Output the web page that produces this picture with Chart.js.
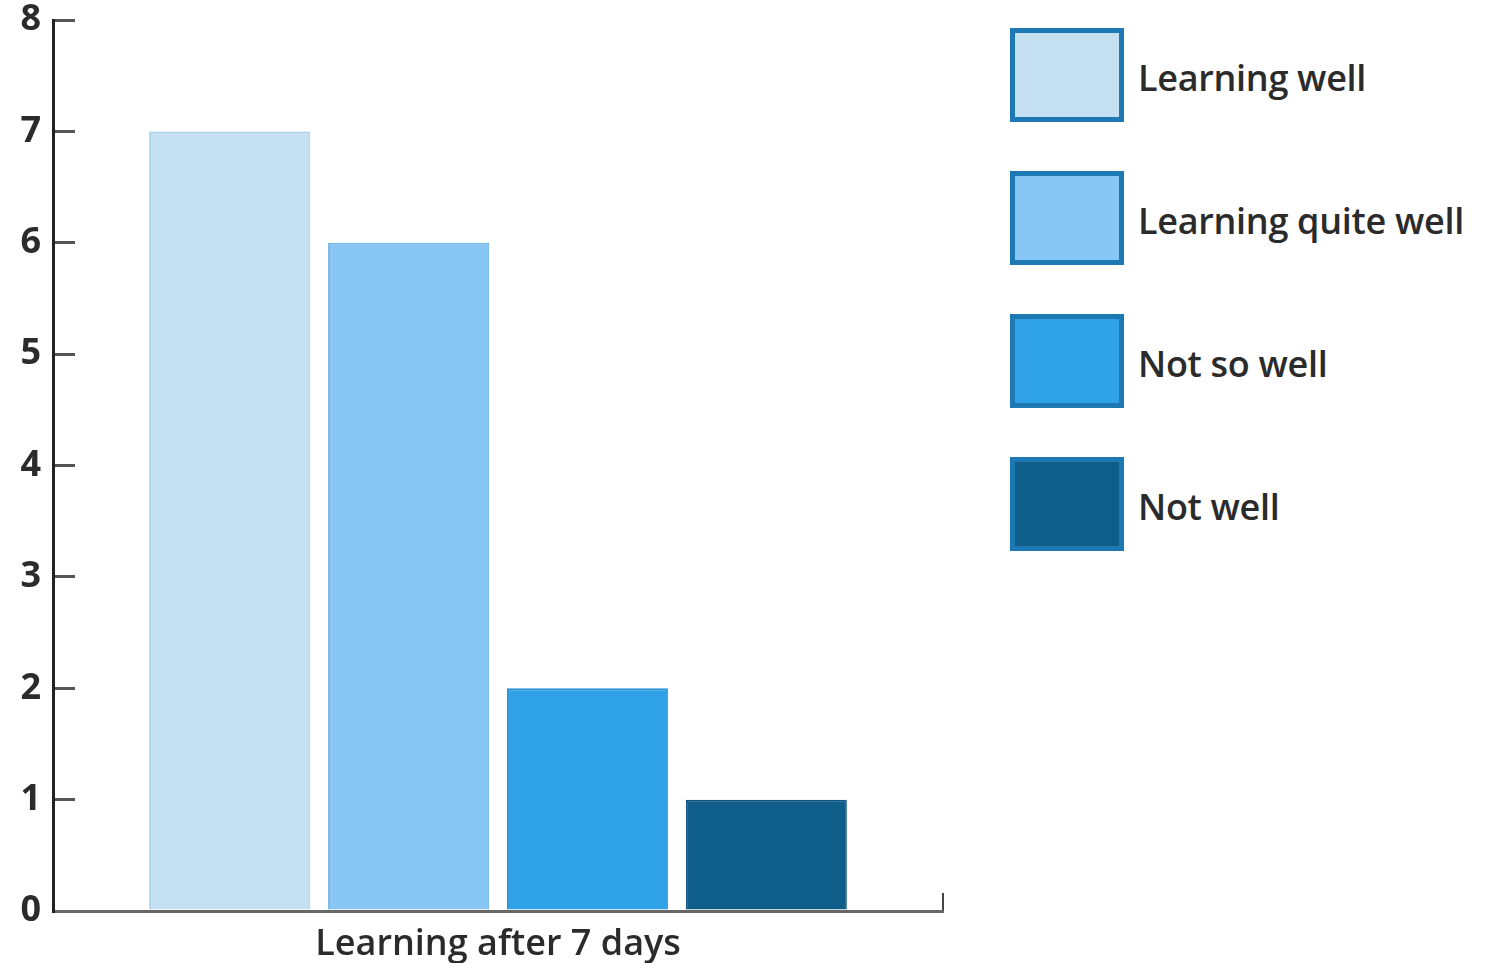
<!DOCTYPE html>
<html>
<head>
<meta charset="utf-8">
<title>Learning after 7 days</title>
<script src="https://cdn.jsdelivr.net/npm/chart.js@4/dist/chart.umd.min.js"></script>
<style>
    body { margin: 0; background: #fff; font-family: 'Open Sans', sans-serif; }
    #chartWrap { position: absolute; left: 0; top: 0; width: 960px; height: 963px; }
    #legend { position: absolute; left: 1010px; top: 28px; margin: 0; padding: 0; list-style: none; }
    #legend li { display: flex; align-items: center; height: 94px; margin-bottom: 49px; }
    #legend .box { width: 114px; height: 94px; box-sizing: border-box; border: 5px solid #1d78b4; }
    #legend .text { margin-left: 14px; margin-top: 4px; font-size: 36px; font-weight: 600; color: #2b2b2b; letter-spacing: -0.3px; }
</style>
</head>
<body>
<div id="chartWrap"><canvas id="learningChart"></canvas></div>
<ul id="legend"></ul>
<script>
const categories = ['Learning after 7 days'];
const seriesNames = ['Learning well', 'Learning quite well', 'Not so well', 'Not well'];
const seriesValues = [7, 6, 2, 1];
const yMin = 0;
const yMax = 8;

const fillColors = ['#c4e0f1', '#88c6f5', '#2fa1e7', '#0e5e89'];
const edgeColors = ['#a6cfe8', '#74b6e6', '#2a93d6', '#0d5780'];

document.addEventListener('DOMContentLoaded', () => {
    const ctx = document.getElementById('learningChart').getContext('2d');
    const labelFont = { family: "'Open Sans', sans-serif", size: 36, weight: '600' };

    const datasets = seriesNames.map((name, i) => ({
        label: name,
        data: [seriesValues[i]],
        backgroundColor: fillColors[i],
        borderColor: edgeColors[i],
        borderWidth: { left: 2, top: 2, right: 1, bottom: 0 },
        barPercentage: 0.9,
        categoryPercentage: 0.804
    }));

    new Chart(ctx, {
        type: 'bar',
        data: { labels: categories, datasets: datasets },
        options: {
            responsive: true,
            maintainAspectRatio: false,
            animation: false,
            layout: { padding: { top: 0, right: 17, bottom: 0, left: 0 } },
            plugins: {
                legend: { display: false },
                tooltip: { enabled: false }
            },
            scales: {
                x: {
                    border: { color: '#676767', width: 3 },
                    grid: { drawOnChartArea: false, tickLength: -18, color: '#444', lineWidth: 2 },
                    ticks: { color: '#2b2b2b', font: labelFont, padding: 30 },
                    afterFit: scale => { scale.height = 52; }
                },
                y: {
                    min: yMin,
                    max: yMax,
                    border: { color: '#222', width: 3 },
                    grid: { drawOnChartArea: false, tickLength: -22, color: '#555', lineWidth: 3 },
                    ticks: { stepSize: 1, color: '#2b2b2b', font: { ...labelFont, weight: 'bold' }, padding: 34 },
                    afterFit: scale => {
                        scale.width = 53;
                        scale.paddingTop = 20;
                        scale.paddingBottom = 0;
                    }
                }
            }
        }
    });

    // Legend with large bordered swatches, built from the series
    const legend = document.getElementById('legend');
    seriesNames.forEach((name, i) => {
        const li = document.createElement('li');
        const box = document.createElement('span');
        box.className = 'box';
        box.style.background = fillColors[i];
        const text = document.createElement('span');
        text.className = 'text';
        text.textContent = name;
        li.appendChild(box);
        li.appendChild(text);
        legend.appendChild(li);
    });
});
</script>
</body>
</html>
